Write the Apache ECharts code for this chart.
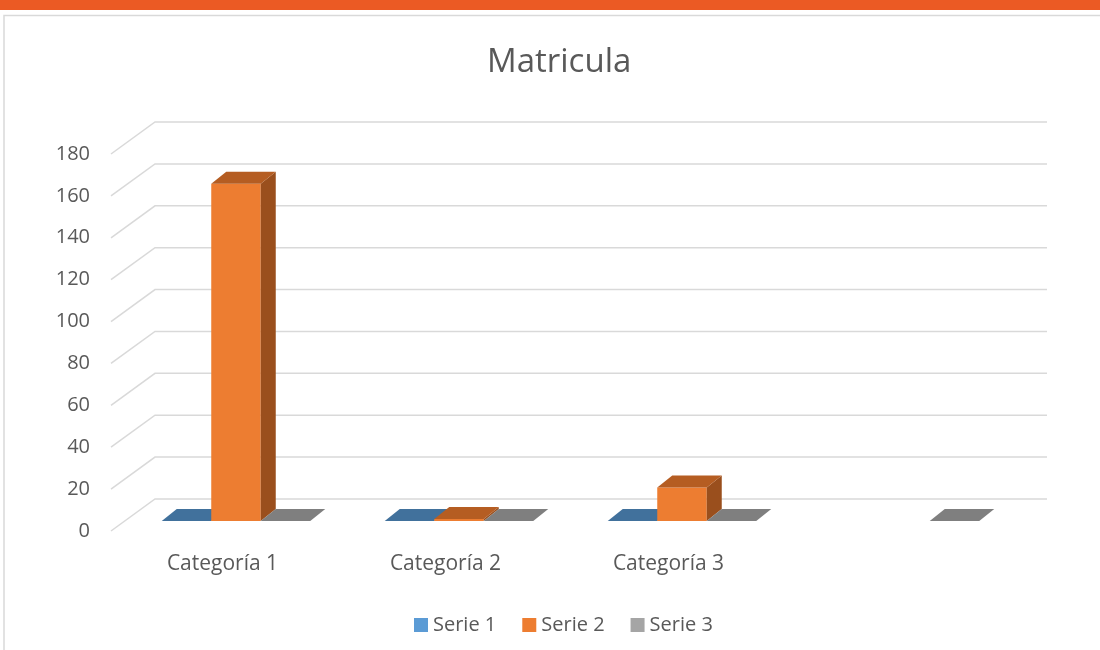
<!DOCTYPE html>
<html>
<head>
<meta charset="utf-8">
<script src="https://cdn.jsdelivr.net/npm/echarts@6/dist/echarts.min.js"></script>
<style>
  html, body { margin: 0; padding: 0; background: #fff; }
  #main { width: 1100px; height: 650px; }
</style>
</head>
<body>
<div id="main"></div>
<script>
var categories = ['Categoría 1', 'Categoría 2', 'Categoría 3', ''];
var serie1 = [0, 0, 0, null];
var serie2 = [161, 1, 16, null];
var serie3 = [0, 0, 0, 0];
var yTicks = [0, 20, 40, 60, 80, 100, 120, 140, 160, 180];

var FONT = '"Open Sans", sans-serif';
var TXT = '#595959';
// fake 3d: front plane = grid, bars a bit deeper, walls at the back
var BACK_DX = 44, BACK_DY = -32;
var PLANE_DX = 13.5, PLANE_DY = -10;
var DX = 15, DY = -12;
var BAR_FRAC = 0.222;

var faces = [
  { legend: '#5B9BD5', front: '#5B9BD5', top: '#41719C', side: '#3A6690' },
  { legend: '#ED7D31', front: '#ED7D31', top: '#B55D22', side: '#9A4F1D' },
  { legend: '#A5A5A5', front: '#A5A5A5', top: '#7F7F7F', side: '#6E6E6E' }
];

function toData(arr) {
  var out = [];
  for (var i = 0; i < arr.length; i++) {
    if (arr[i] !== null) out.push([i, arr[i]]);
  }
  return out;
}

function makeBar(idx) {
  var f = faces[idx];
  return function (params, api) {
    var cat = api.value(0), v = api.value(1);
    var p0 = api.coord([cat, 0]);
    var p1 = api.coord([cat, v]);
    var w = api.size([1, 0])[0] * BAR_FRAC;
    var xl = p0[0] + PLANE_DX + (idx - 1.5) * w;
    var xr = xl + w;
    var yb = p0[1] + PLANE_DY;
    var yt = p1[1] + PLANE_DY;
    var kids = [];
    if (yb - yt > 0.5) {
      kids.push({ type: 'polygon', shape: { points: [[xl, yb], [xr, yb], [xr, yt], [xl, yt]] }, style: { fill: f.front } });
      kids.push({ type: 'polygon', shape: { points: [[xr, yb], [xr + DX, yb + DY], [xr + DX, yt + DY], [xr, yt]] }, style: { fill: f.side } });
    }
    kids.push({ type: 'polygon', shape: { points: [[xl, yt], [xr, yt], [xr + DX, yt + DY], [xl + DX, yt + DY]] }, style: { fill: f.top } });
    return { type: 'group', children: kids };
  };
}

function gridLines(params, api) {
  var cs = params.coordSys;
  var y = api.coord([0, api.value(1)])[1];
  return {
    type: 'polyline',
    shape: { points: [[cs.x, y], [cs.x + BACK_DX, y + BACK_DY], [cs.x + cs.width + BACK_DX, y + BACK_DY]] },
    style: { stroke: '#D9D9D9', lineWidth: 1.5, fill: null }
  };
}

var chartDom = document.getElementById('main');
var myChart = echarts.init(chartDom);
var option = {
  backgroundColor: '#fff',
  animation: false,
  title: {
    text: 'Matricula',
    left: 482,
    top: 41,
    textStyle: { fontFamily: FONT, fontSize: 33, fontWeight: 'normal', color: TXT }
  },
  graphic: [
    { type: 'rect', shape: { x: 0, y: 0, width: 1100, height: 10 }, style: { fill: '#EB5A24' } },
    { type: 'polyline', shape: { points: [[4, 650], [4, 15.5], [1100, 15.5]] }, style: { stroke: '#D9D9D9', lineWidth: 1.5, fill: null } }
  ],
  legend: {
    data: ['Serie 1', 'Serie 2', 'Serie 3'],
    left: 409,
    top: 610,
    icon: 'rect',
    itemWidth: 14,
    itemHeight: 14,
    itemGap: 26,
    textStyle: { fontFamily: FONT, fontSize: 20, color: TXT }
  },
  grid: { left: 111, right: 97, top: 154, bottom: 119 },
  xAxis: {
    type: 'category',
    data: categories,
    axisLine: { show: false },
    axisTick: { show: false },
    axisLabel: { fontFamily: FONT, fontSize: 21, color: TXT, margin: 23 }
  },
  yAxis: {
    type: 'value',
    min: 0,
    max: 180,
    interval: 20,
    axisLine: { show: false },
    axisTick: { show: false },
    splitLine: { show: false },
    axisLabel: { fontFamily: FONT, fontSize: 20, color: TXT, margin: 21, padding: [3, 0, 0, 0] }
  },
  series: [
    { type: 'custom', name: 'grid', silent: true, renderItem: gridLines, encode: { x: 0, y: 1 }, data: yTicks.map(function (v) { return [0, v]; }), z: 1 },
    { type: 'custom', name: 'Serie 1', renderItem: makeBar(0), encode: { x: 0, y: 1 }, itemStyle: { color: faces[0].legend }, data: toData(serie1), z: 2 },
    { type: 'custom', name: 'Serie 2', renderItem: makeBar(1), encode: { x: 0, y: 1 }, itemStyle: { color: faces[1].legend }, data: toData(serie2), z: 2 },
    { type: 'custom', name: 'Serie 3', renderItem: makeBar(2), encode: { x: 0, y: 1 }, itemStyle: { color: faces[2].legend }, data: toData(serie3), z: 2 }
  ]
};
option && myChart.setOption(option);
</script>
</body>
</html>
